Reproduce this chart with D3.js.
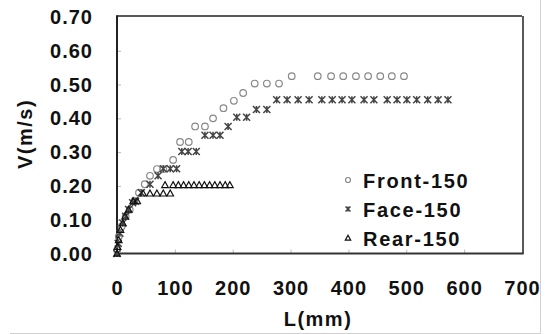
<!DOCTYPE html>
<html><head><meta charset="utf-8">
<script src="https://cdn.jsdelivr.net/npm/d3@7"></script>
<style>
html,body{margin:0;padding:0;background:#fff;}
svg{display:block;}
text{font-family:"Liberation Sans",Arial,sans-serif;font-weight:bold;fill:#111;}
</style></head>
<body>
<script>
const xTicks = [0,100,200,300,400,500,600,700];
const yTicks = [0,0.1,0.2,0.3,0.4,0.5,0.6,0.7];
const seriesNames = ["Front-150","Face-150","Rear-150"];

const frontX = [0,3,8,15,22,30,38,48,57,69,80,97,109,124,135,152,166,184,202,218,238,259,280,302,347,370,391,413,434,455,475,496];
const frontY = [0.01,0.05,0.08,0.11,0.13,0.155,0.18,0.205,0.23,0.25,0.25,0.277,0.33,0.33,0.376,0.376,0.40,0.43,0.452,0.475,0.503,0.503,0.503,0.525,0.525,0.525,0.525,0.525,0.525,0.525,0.525,0.525];

const faceX = [0,2,5,10,15,20,27,32,42,57,71,80,92,103,112,123,137,152,166,178,192,207,224,241,259,276,294,313,332,354,372,389,406,427,444,467,484,501,518,537,555,572];
const faceY = [0.0,0.03,0.06,0.09,0.11,0.13,0.15,0.155,0.18,0.205,0.23,0.251,0.251,0.251,0.302,0.302,0.302,0.35,0.35,0.35,0.376,0.403,0.403,0.426,0.426,0.455,0.455,0.455,0.455,0.455,0.455,0.455,0.455,0.455,0.455,0.455,0.455,0.455,0.455,0.455,0.455,0.455];

const rearX = [0,1,3,6,10,14,20,28,35,45,57,69,80,92,83,97,106,115,124,133,142,151,160,169,178,187,195];
const rearY = [0.0,0.02,0.04,0.07,0.09,0.11,0.13,0.155,0.155,0.178,0.178,0.178,0.178,0.178,0.203,0.203,0.203,0.203,0.203,0.203,0.203,0.203,0.203,0.203,0.203,0.203,0.203];

const W = 549, H = 334;
const svg = d3.select("body").append("svg").attr("width", W).attr("height", H);

const x = d3.scaleLinear().domain([0,700]).range([117,522]);
const y = d3.scaleLinear().domain([0,0.7]).range([253.5,17]);

// outer chart border (light)
svg.append("line").attr("x1",10).attr("x2",540.5).attr("y1",333.5).attr("y2",333.5).attr("stroke","#d0d0d0").attr("stroke-width",1);
svg.append("line").attr("x1",540.5).attr("x2",540.5).attr("y1",0).attr("y2",333.5).attr("stroke","#d0d0d0").attr("stroke-width",1);

// inner ticks
const yAxis = d3.axisRight(y).tickValues(yTicks.slice(1,-1)).tickSize(4).tickFormat("");
svg.append("g").attr("transform","translate(117,0)").call(yAxis)
  .call(g=>{g.select(".domain").remove(); g.selectAll("line").attr("stroke","#bbb");});
const xAxis = d3.axisTop(x).tickValues(xTicks.slice(1,-1)).tickSize(4).tickFormat("");
svg.append("g").attr("transform","translate(0,253.5)").call(xAxis)
  .call(g=>{g.select(".domain").remove(); g.selectAll("line").attr("stroke","#bbb");});

// frame
svg.append("line").attr("x1",x(0)).attr("x2",x(700)).attr("y1",y(0.7)-1).attr("y2",y(0.7)-1).attr("stroke","#222").attr("stroke-width",1.5);
svg.append("line").attr("x1",x(700)+1).attr("x2",x(700)+1).attr("y1",y(0.7)-1).attr("y2",y(0)).attr("stroke","#222").attr("stroke-width",1.5);
svg.append("line").attr("x1",x(0)).attr("x2",x(0)).attr("y1",y(0.7)-1.7).attr("y2",y(0)+1).attr("stroke","#222").attr("stroke-width",2);
svg.append("line").attr("x1",x(0)-1).attr("x2",x(700)+1.7).attr("y1",y(0)).attr("y2",y(0)).attr("stroke","#333").attr("stroke-width",2);

// tick labels
svg.append("g").selectAll("text").data(yTicks).join("text")
  .attr("x",93).attr("y",d=>y(d)+7).attr("text-anchor","end")
  .style("font-size","20px").style("letter-spacing","1px")
  .text(d=>d3.format(".2f")(d));
svg.append("g").selectAll("text").data(xTicks).join("text")
  .attr("x",d=>x(d)+0.5).attr("y",295).attr("text-anchor","middle")
  .style("font-size","20px").style("letter-spacing","1px")
  .text(d=>d);

// axis titles
svg.append("text").attr("x",318).attr("y",326).attr("text-anchor","middle")
  .style("font-size","20px").style("letter-spacing","1.5px").text("L(mm)");
svg.append("text").attr("transform","translate(32,134) rotate(-90)").attr("text-anchor","middle")
  .style("font-size","20px").style("letter-spacing","1.5px").text("V(m/s)");

// marker functions
function circle(g, cx, cy, r, color){ g.append("circle").attr("cx",cx).attr("cy",cy).attr("r",r).attr("fill","none").attr("stroke",color).attr("stroke-width",1.2); }
function star(g, cx, cy, s, color){
  g.append("path").attr("d",`M${cx-s},${cy-s}L${cx+s},${cy+s}M${cx-s},${cy+s}L${cx+s},${cy-s}M${cx},${cy-s}L${cx},${cy+s}`)
   .attr("stroke",color).attr("stroke-width",1.5).attr("fill","none");
}
function tri(g, cx, cy, s, color){
  g.append("path").attr("d",`M${cx},${cy-s}L${cx+s},${cy+s*0.8}L${cx-s},${cy+s*0.8}Z`)
   .attr("stroke",color).attr("stroke-width",1.2).attr("fill","none");
}

const gFront = svg.append("g"), gFace = svg.append("g"), gRear = svg.append("g");
frontX.forEach((v,i)=>circle(gFront, x(v), y(frontY[i]), 3.3, "#888"));
faceX.forEach((v,i)=>star(gFace, x(v), y(faceY[i]), 3.5, "#444"));
rearX.forEach((v,i)=>tri(gRear, x(v), y(rearY[i]), 3.3, "#111"));

// legend
const lg = svg.append("g");
const ly = [180,209,238];
circle(lg, 348, ly[0], 2.5, "#888");
star(lg, 348, ly[1], 2.5, "#444");
tri(lg, 348, ly[2], 2.7, "#111");
lg.selectAll("text").data(seriesNames).join("text")
  .attr("x",363).attr("y",(d,i)=>ly[i]+7.5)
  .style("font-size","20px").style("letter-spacing","1.7px")
  .text(d=>d);
</script>
</body></html>
